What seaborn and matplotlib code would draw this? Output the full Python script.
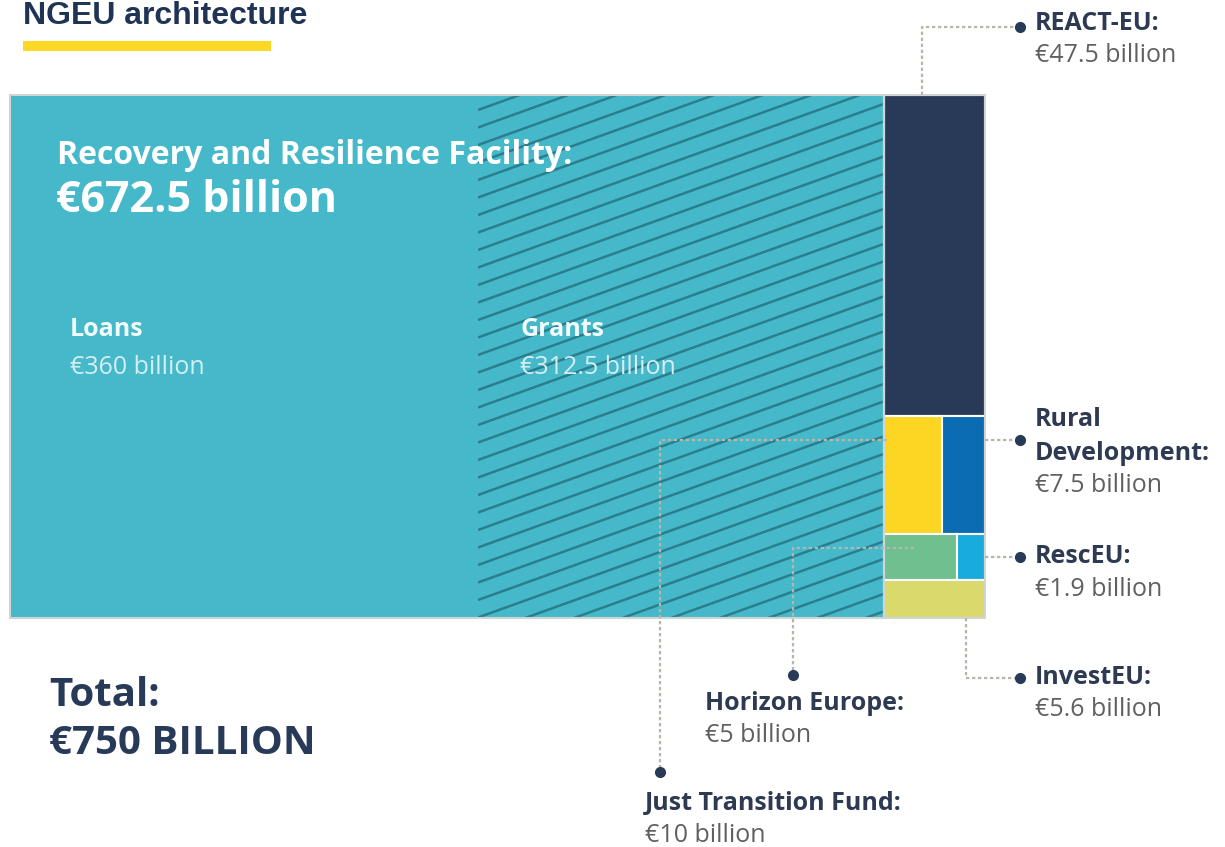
import numpy as np
import matplotlib.pyplot as plt
from matplotlib.patches import Rectangle
import seaborn as sns

sns.set_theme(style="white")
plt.rcParams['font.family'] = ['Open Sans', 'DejaVu Sans']

# data (EUR billion)
total = 750
rrf_name = "Recovery and Resilience Facility"
rrf_parts = ["Loans", "Grants"]
rrf_values = [360, 312.5]
side_names = ["REACT-EU", "Just Transition Fund", "Rural Development",
              "Horizon Europe", "RescEU", "InvestEU"]
side_values = [47.5, 10, 7.5, 5, 1.9, 5.6]
side_rows = [0, 1, 1, 2, 2, 3]
side_colors = ["#283a57", "#fdd523", "#0b6cb4", "#6fbf8f", "#17acdb", "#d9d96c"]

teal = "#45b9c9"
navy = "#273a57"
grey_txt = "#606060"
leader = "#b8b6aa"

fig = plt.figure(figsize=(12.25, 8.47), dpi=100)
ax = fig.add_axes([0, 0, 1, 1])
ax.set_xlim(0, 1225)
ax.set_ylim(847, 0)
ax.axis("off")

# treemap box (pixels)
bx, by, bw, bh = 10, 95, 975, 523

# RRF column
x = bx
rects = {}
for name, v in zip(rrf_parts, rrf_values):
    w = v / total * bw
    r = Rectangle((x, by), w, bh, facecolor=teal, edgecolor="none", zorder=1)
    ax.add_patch(r)
    rects[name] = (x, by, w, bh, r)
    x += w
rrf_w = sum(rrf_values) / total * bw
ax.add_patch(Rectangle((bx, by), rrf_w, bh, facecolor="none",
                       edgecolor="#d0d4d6", lw=1.5, zorder=3))

# hatching on grants
gx, gy, gw, gh, gr = rects["Grants"]
slope = 0.36
for y0 in np.arange(gy - 20, gy + gh + gw * slope + 20, 17.5):
    line, = ax.plot([gx, gx + gw], [y0, y0 - slope * gw], color="#2a7e8d",
                    lw=1.8, zorder=2, solid_capstyle="butt")
    line.set_clip_path(gr)

# side column treemap
sx = bx + rrf_w
sw = bw - rrf_w
side_total = sum(side_values)
row_sums = {}
for rw, v in zip(side_rows, side_values):
    row_sums[rw] = row_sums.get(rw, 0) + v
y = by
row_y = {}
for rw in sorted(row_sums):
    row_y[rw] = y
    y += row_sums[rw] / side_total * bh
row_x = {rw: sx for rw in row_sums}
for name, v, rw, c in zip(side_names, side_values, side_rows, side_colors):
    h = row_sums[rw] / side_total * bh
    w = v / row_sums[rw] * sw
    ax.add_patch(Rectangle((row_x[rw], row_y[rw]), w, h, facecolor=c,
                           edgecolor="white", lw=1.5, zorder=2))
    rects[name] = (row_x[rw], row_y[rw], w, h)
    row_x[rw] += w
ax.add_patch(Rectangle((sx, by), sw, bh, facecolor="none",
                       edgecolor="#d0d4d6", lw=1.5, zorder=3))


def fmt(v):
    return f"€{v:g} billion"


# title
ax.text(23, 24, "NGEU architecture", fontsize=23, fontweight="bold",
        color="#1f3454", family="Liberation Sans", va="baseline")
ax.add_patch(Rectangle((23, 41), 248, 10, facecolor="#fdd824", edgecolor="none"))

# RRF text
ax.text(57, 156, f"{rrf_name}:", fontsize=23, fontweight="bold", color="white",
        va="center", zorder=5)
ax.text(56, 200, fmt(sum(rrf_values)), fontsize=31, fontweight="bold",
        color="white", va="center", zorder=5)
for name, v, dx in zip(rrf_parts, rrf_values, [60, 42]):
    px = rects[name][0]
    ax.text(px + dx, 330, name, fontsize=18, fontweight="bold", color="#f2fbfc",
            va="center", zorder=5)
    ax.text(px + dx, 368, fmt(v), fontsize=18, color="#d5eef2",
            va="center", zorder=5)

ax.text(49, 695, "Total:", fontsize=29, fontweight="bold", color=navy, va="center")
ax.text(49, 743, f"€{total} BILLION", fontsize=29, fontweight="bold",
        color=navy, va="center")

lkw = dict(color=leader, lw=1.6, ls=(0, (1.5, 1.2)), zorder=4)
dkw = dict(color=navy, ms=7, marker="o", ls="none", zorder=6)


def label(x, y, lines, val):
    for i, t in enumerate(lines):
        ax.text(x, y + i * 33, t, fontsize=18, fontweight="bold", color="#2d3a52",
                va="center")
    ax.text(x, y + len(lines) * 33, fmt(val), fontsize=18, color=grey_txt,
            va="center")


vals = dict(zip(side_names, side_values))

# REACT-EU
rx, ry, rw_, rh = rects["REACT-EU"]
lx = rx + 38
ax.plot([lx, lx, 1020], [ry, 27, 27], **lkw)
ax.plot([1020], [27], **dkw)
label(1035, 23, ["REACT-EU:"], vals["REACT-EU"])

# Rural Development
rx, ry, rw_, rh = rects["Rural Development"]
yy = ry + 24
ax.plot([rx + rw_, 1020], [yy, yy], **lkw)
ax.plot([1020], [yy], **dkw)
label(1035, 420, ["Rural", "Development:"], vals["Rural Development"])

# RescEU
rx, ry, rw_, rh = rects["RescEU"]
yy = ry + rh / 2
ax.plot([rx + rw_, 1020], [yy, yy], **lkw)
ax.plot([1020], [yy], **dkw)
label(1035, yy, ["RescEU:"], vals["RescEU"])

# InvestEU
rx, ry, rw_, rh = rects["InvestEU"]
lx = rx + 82
ax.plot([lx, lx, 1020], [ry + rh, 678, 678], **lkw)
ax.plot([1020], [678], **dkw)
label(1035, 677, ["InvestEU:"], vals["InvestEU"])

# Horizon Europe
rx, ry, rw_, rh = rects["Horizon Europe"]
yy = ry + 14
ax.plot([rx + 30, 793, 793], [yy, yy, 675], **lkw)
ax.plot([793], [675], **dkw)
label(705, 703, ["Horizon Europe:"], vals["Horizon Europe"])

# Just Transition Fund
rx, ry, rw_, rh = rects["Just Transition Fund"]
yy = ry + 24
ax.plot([rx + 3, 660, 660], [yy, yy, 772], **lkw)
ax.plot([660], [772], **dkw)
label(645, 803, ["Just Transition Fund:"], vals["Just Transition Fund"])

fig.savefig("out.png", dpi=100, facecolor="white")
